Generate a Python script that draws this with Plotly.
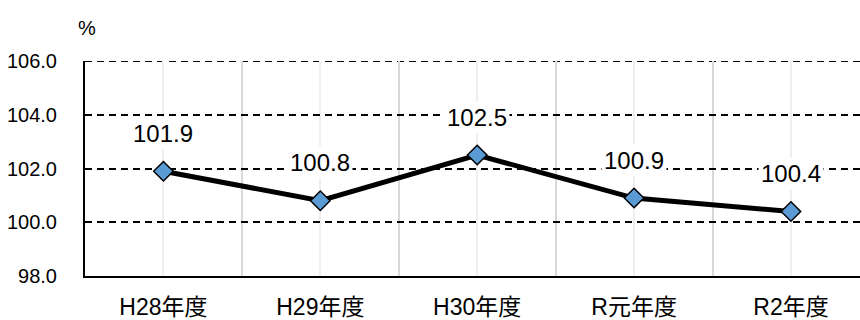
import plotly.graph_objects as go

categories = ["H28年度", "H29年度", "H30年度", "R元年度", "R2年度"]
values = [101.9, 100.8, 102.5, 100.9, 100.4]
y_ticks = [98.0, 100.0, 102.0, 104.0, 106.0]
unit_label = "%"

FONT = "Liberation Sans, Noto Sans CJK JP, sans-serif"
x_idx = list(range(len(categories)))

fig = go.Figure()
fig.add_trace(go.Scatter(
    x=x_idx, y=values, mode="lines+markers",
    line=dict(color="black", width=5),
    marker=dict(symbol="diamond", size=15, color="#5B9BD5",
                line=dict(color="black", width=1.5)),
    showlegend=False, hoverinfo="skip",
))

for i, v in zip(x_idx, values):
    fig.add_annotation(x=i, y=v, text=f"{v:.1f}", showarrow=False,
                       yshift=38, bgcolor="white", borderpad=2,
                       font=dict(family=FONT, size=24, color="black"))

fig.add_annotation(xref="paper", yref="paper", x=0, y=1, xshift=2, yshift=33,
                   xanchor="center", yanchor="middle",
                   text=unit_label, showarrow=False,
                   font=dict(family=FONT, size=20, color="black"))

# top gridline at the range edge
fig.add_shape(type="line", xref="paper", yref="y", x0=0, x1=1, y0=y_ticks[-1], y1=y_ticks[-1],
              line=dict(color="black", width=2, dash="7px,5px"), layer="below")

fig.update_layout(
    width=860, height=320,
    margin=dict(l=85, r=0, t=61, b=44, autoexpand=False),
    paper_bgcolor="white", plot_bgcolor="white",
    font=dict(family=FONT, size=20, color="black"),
    xaxis=dict(
        range=[-0.5, 4.44], automargin=False,
        tickmode="array", tickvals=x_idx, ticktext=categories,
        showgrid=True, gridcolor="#efefef", gridwidth=1.5,
        minor=dict(tickmode="array", tickvals=[0.5, 1.5, 2.5, 3.5, 4.5],
                   showgrid=True, gridcolor="#d9d9d9", gridwidth=1.5),
        showline=True, linecolor="black", linewidth=2,
        ticks="", ticklabelstandoff=9, zeroline=False,
        tickfont=dict(family=FONT, size=23),
    ),
    yaxis=dict(
        range=[98, 106], tickmode="array", tickvals=y_ticks, automargin=False,
        tickformat=".1f",
        showgrid=True, gridcolor="black", gridwidth=2, griddash="7px,5px",
        showline=True, linecolor="black", linewidth=2,
        ticks="", ticklabelstandoff=22, zeroline=False,
        tickfont=dict(family=FONT, size=20),
    ),
)

fig.write_html("out.html")
